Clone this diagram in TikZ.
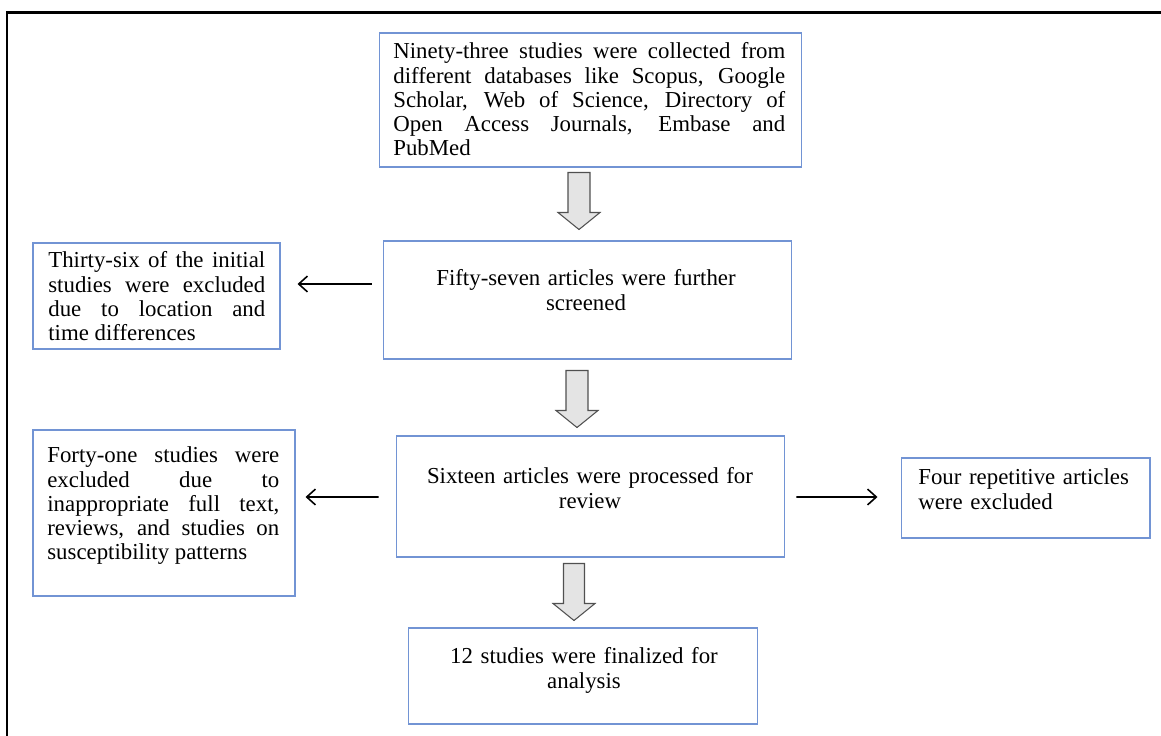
\documentclass[tikz,border=0pt]{standalone}
\usepackage{fontspec}
\setmainfont{Liberation Serif}
\usetikzlibrary{arrows.meta,calc}

\definecolor{boxblue}{RGB}{114,148,212}
\definecolor{arrowfill}{RGB}{228,228,228}
\definecolor{arrowline}{RGB}{80,80,80}
\tolerance=9999

\begin{document}
\begin{tikzpicture}[x=0.02cm, y=-0.02cm, >={Straight Barb[length=5pt,width=9pt]},
    box/.style={draw=boxblue, line width=0.6pt, inner sep=0pt},
    txt/.style={inner sep=0pt, font=\fontsize{13}{13.7}\selectfont},
    blockarrow/.style={draw=arrowline, fill=arrowfill, line width=0.6pt},
    thinarrow/.style={->, line width=0.9pt}]

    \useasboundingbox (0,0) rectangle (1161,736);

    % the frame round the figure (only top and left show)
    \draw[line width=1.2pt] (1161,12.5) -- (7,12.5) -- (7,736);

    % the boxes of the main column
    \node[box, minimum width=8.46cm, minimum height=2.68cm] (collect) at (590.5,100) {};
    \node[box, minimum width=8.18cm, minimum height=2.36cm] (screen) at (587.5,300) {};
    \node[box, minimum width=7.78cm, minimum height=2.42cm] (review) at (590.5,496.5) {};
    \node[box, minimum width=7.00cm, minimum height=1.92cm] (final) at (583,676) {};

    % the boxes of the excluded studies
    \node[box, minimum width=4.94cm, minimum height=2.12cm] (exclA) at (156.5,296) {};
    \node[box, minimum width=5.24cm, minimum height=3.32cm] (exclB) at (164,513) {};
    \node[box, minimum width=4.98cm, minimum height=1.60cm] (repeat) at (1025.5,498) {};

    % the texts, set at the top of each box
    \node[txt, text width=7.84cm, align=justify, anchor=base west] (collecttext) at (393,59)
        {Ninety-three studies were collected from\linebreak different databases like Scopus, Google\linebreak
         Scholar, Web of Science, Directory of\linebreak Open Access Journals, Embase and\linebreak PubMed};
    \node[txt, text width=8cm, align=center, anchor=base] (screentext) at (586,286)
        {Fifty-seven articles were further\\screened};
    \node[txt, text width=8cm, align=center, anchor=base] (reviewtext) at (590,484)
        {Sixteen articles were processed for\\review};
    \node[txt, text width=7cm, align=center, anchor=base] (finaltext) at (584,664)
        {12 studies were finalized for\\analysis};
    \node[txt, text width=4.34cm, align=justify, anchor=base west] (exclAtext) at (48,268)
        {Thirty-six of the initial\linebreak studies were excluded\linebreak due to location and\linebreak time differences};
    \node[txt, text width=4.64cm, align=justify, anchor=base west] (exclBtext) at (47,463)
        {Forty-one studies were\linebreak excluded due to\linebreak inappropriate full text,\linebreak
         reviews, and studies on\linebreak susceptibility patterns};
    \node[txt, text width=4.4cm, align=left, anchor=base west] (repeattext) at (918,485)
        {Four repetitive articles\\were excluded};

    % the grey block arrows down the column
    \draw[blockarrow] ($(collect.south)+(-22.5,5)$) -- ++(22,0) -- ++(0,40) -- ++(10,0)
        -- ++(-21,17) -- ++(-21,-17) -- ++(10,0) -- cycle;
    \draw[blockarrow] ($(screen.south)+(-21.5,11)$) -- ++(22,0) -- ++(0,40) -- ++(10,0)
        -- ++(-21,17) -- ++(-21,-17) -- ++(10,0) -- cycle;
    \draw[blockarrow] ($(review.south)+(-27,6)$) -- ++(21,0) -- ++(0,40) -- ++(10.5,0)
        -- ++(-21,17) -- ++(-21,-17) -- ++(10.5,0) -- cycle;

    % the thin arrows out to the side boxes
    \draw[thinarrow] ($(screen.west)+(-11,-16)$) -- ($(exclA.east)+(17,-12)$);
    \draw[thinarrow] ($(review.west)+(-17,0.5)$) -- ($(exclB.east)+(10,-16)$);
    \draw[thinarrow] ($(review.east)+(11,0.5)$) -- ($(repeat.west)+(-23,-1)$);
\end{tikzpicture}
\end{document}
